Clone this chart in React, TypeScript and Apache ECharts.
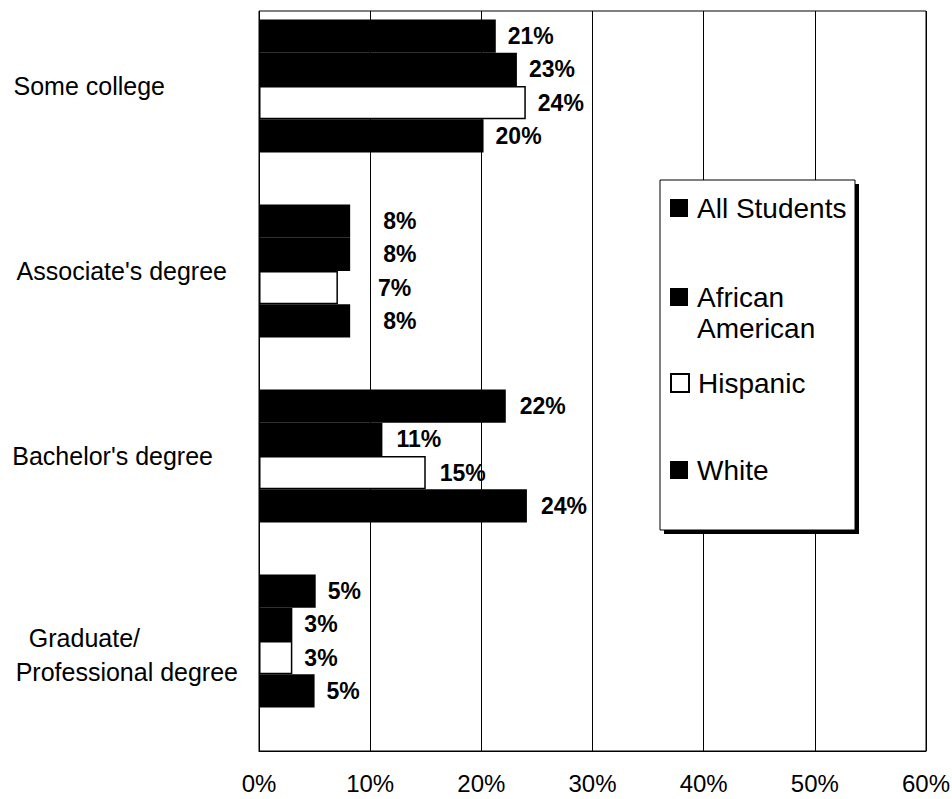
import React, { useEffect, useRef } from "react";
import * as echarts from "echarts";

const categories = ["Some college", "Associate's degree", "Bachelor's degree", "Graduate/\nProfessional degree"];
const seriesNames = ["All Students", "African American", "Hispanic", "White"];
const allStudents = [21.3, 8.2, 22.2, 5.1];
const africanAmerican = [23.2, 8.2, 11.1, 3.0];
const hispanic = [24.0, 7.1, 15.0, 3.0];
const white = [20.2, 8.2, 24.1, 5.0];
const xTicks = [0, 10, 20, 30, 40, 50, 60];

const FONT = "'Liberation Sans', Arial, Helvetica, sans-serif";
const labelDistances = [12, 33, 14, 12];

export default function App() {
  const ref = useRef<HTMLDivElement>(null);
  useEffect(() => {
    if (!ref.current) return;
    const chart = echarts.init(ref.current, null, { renderer: "svg" });
    const values = [allStudents, africanAmerican, hispanic, white];
    const colors = ["#000", "#000", "#fff", "#000"];
    const series = values.map((arr, si) => ({
      name: seriesNames[si],
      type: "bar",
      xAxisIndex: 0,
      yAxisIndex: 0,
      barGap: "0%",
      barCategoryGap: "28%",
      itemStyle: {
        color: colors[si],
        borderColor: "#000",
        borderWidth: si === 2 ? 1.5 : 0,
      },
      label: {
        show: true,
        position: "right",
        distance: 12,
        color: "#000",
        fontFamily: FONT,
        fontWeight: "bold",
        fontSize: 23,
        formatter: (p: any) => Math.round(p.value) + "%",
      },
      data: arr.map((v, i) => ({
        value: v,
        label: { distance: si === 2 && i === 1 ? 40 : labelDistances[i] },
      })),
    }));

    const legendTops = [192.5, 250.5, 367.5, 454.5];
    const legends = seriesNames.map((n, i) => ({
      show: true,
      data: [n],
      left: 670,
      top: legendTops[i],
      orient: "vertical",
      padding: 0,
      icon: "rect",
      itemWidth: 18,
      itemHeight: 18,
      selectedMode: false,
      z: 5,
      formatter: (name: string) => (name === "African American" ? "\nAfrican\nAmerican" : name),
      textStyle: {
        color: "#000",
        fontFamily: FONT,
        fontSize: 28,
        lineHeight: 31,
        padding: [0, 0, 0, 4],
      },
    }));

    chart.setOption({
      animation: false,
      backgroundColor: "#fff",
      grid: [
        { left: 259, right: 26, top: -6.5, height: 740, containLabel: false, outerBoundsMode: "none" },
        { left: 259, right: 26, top: 11, bottom: 48, show: true, borderColor: "#000", borderWidth: 1, backgroundColor: "transparent", outerBoundsMode: "none" },
      ],
      xAxis: [
        { type: "value", gridIndex: 0, min: 0, max: 60, interval: 10, show: false },
        {
          type: "value",
          gridIndex: 1,
          min: xTicks[0],
          max: xTicks[xTicks.length - 1],
          interval: 10,
          axisLine: { show: true, lineStyle: { color: "#000", width: 1 } },
          axisTick: { show: false },
          splitLine: { show: true, lineStyle: { color: "#000", width: 1 } },
          axisLabel: {
            formatter: "{value}%",
            color: "#000",
            fontFamily: FONT,
            fontSize: 24,
            margin: 20,
          },
        },
      ],
      yAxis: [
        {
          type: "category",
          gridIndex: 0,
          inverse: true,
          data: categories,
          axisLine: { show: false },
          axisTick: { show: false },
          splitLine: { show: false },
          axisLabel: {
            align: "right",
            margin: 21,
            color: "#000",
            fontFamily: FONT,
            fontSize: 25,
            formatter: (value: string, index: number) => {
              if (index === 3) {
                const parts = value.split("\n");
                return `{sp| }\n{g1|${parts[0]}}\n{g2|${parts[1]}}`;
              }
              return `{c${index}|${value}}`;
            },
            rich: {
              c0: { fontFamily: FONT, fontSize: 25, color: "#000", padding: [0, 73, 0, 0] },
              c1: { fontFamily: FONT, fontSize: 25, color: "#000", padding: [0, 11, 0, 0] },
              c2: { fontFamily: FONT, fontSize: 25, color: "#000", padding: [0, 25, 0, 0] },
              sp: { fontFamily: FONT, fontSize: 10, color: "#000", lineHeight: 28 },
              g1: { fontFamily: FONT, fontSize: 25, color: "#000", lineHeight: 34, padding: [0, 98, 0, 0] },
              g2: { fontFamily: FONT, fontSize: 25, color: "#000", lineHeight: 34 },
            },
          },
        },
        { type: "value", gridIndex: 1, show: false, min: 0, max: 1 },
      ],
      legend: legends,
      graphic: [
        { type: "rect", z: 3, shape: { x: 664, y: 184, width: 195, height: 350 }, style: { fill: "#000" } },
        { type: "rect", z: 4, shape: { x: 660, y: 180, width: 195, height: 350 }, style: { fill: "#fff", stroke: "#000", lineWidth: 1 } },
      ],
      series,
    });
    return () => chart.dispose();
  }, []);
  return <div ref={ref} style={{ position: "fixed", left: 0, top: 0, width: 952, height: 799 }} />;
}
